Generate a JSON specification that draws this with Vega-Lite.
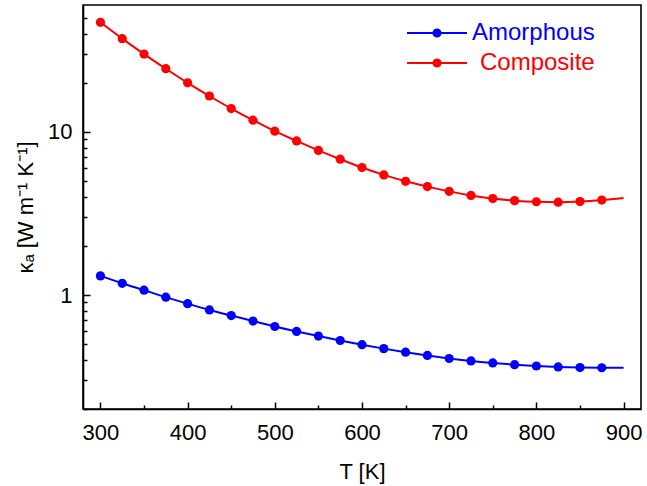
{
  "$schema": "https://vega.github.io/schema/vega-lite/v6.json",
  "width": 558,
  "height": 404,
  "autosize": "none",
  "padding": {"left": 83, "top": 5, "right": 6, "bottom": 77},
  "background": "white",
  "config": {
    "view": {"stroke": "#000", "strokeWidth": 1.6},
    "font": "Liberation Sans",
    "axis": {"grid": false, "domainColor": "#000", "domainWidth": 1.6, "tickColor": "#000", "tickWidth": 1.5, "labelColor": "#000", "titleColor": "#000", "labelFont": "Liberation Sans", "titleFont": "Liberation Sans", "labelFontSize": 22, "titleFontSize": 22, "titleFontWeight": "normal", "labelFlush": false}
  },
  "data": {"values": [
    {"T": 300, "k": 47.0, "s": "Composite"},
    {"T": 325, "k": 37.3, "s": "Composite"},
    {"T": 350, "k": 30.0, "s": "Composite"},
    {"T": 375, "k": 24.4, "s": "Composite"},
    {"T": 400, "k": 20.0, "s": "Composite"},
    {"T": 425, "k": 16.6, "s": "Composite"},
    {"T": 450, "k": 13.9, "s": "Composite"},
    {"T": 475, "k": 11.8, "s": "Composite"},
    {"T": 500, "k": 10.1, "s": "Composite"},
    {"T": 525, "k": 8.8, "s": "Composite"},
    {"T": 550, "k": 7.7, "s": "Composite"},
    {"T": 575, "k": 6.8, "s": "Composite"},
    {"T": 600, "k": 6.05, "s": "Composite"},
    {"T": 625, "k": 5.45, "s": "Composite"},
    {"T": 650, "k": 4.98, "s": "Composite"},
    {"T": 675, "k": 4.62, "s": "Composite"},
    {"T": 700, "k": 4.32, "s": "Composite"},
    {"T": 725, "k": 4.08, "s": "Composite"},
    {"T": 750, "k": 3.9, "s": "Composite"},
    {"T": 775, "k": 3.79, "s": "Composite"},
    {"T": 800, "k": 3.73, "s": "Composite"},
    {"T": 825, "k": 3.71, "s": "Composite"},
    {"T": 850, "k": 3.74, "s": "Composite"},
    {"T": 875, "k": 3.82, "s": "Composite"},
    {"T": 900, "k": 3.94, "s": "Composite"},
    {"T": 300, "k": 1.31, "s": "Amorphous"},
    {"T": 325, "k": 1.18, "s": "Amorphous"},
    {"T": 350, "k": 1.07, "s": "Amorphous"},
    {"T": 375, "k": 0.97, "s": "Amorphous"},
    {"T": 400, "k": 0.885, "s": "Amorphous"},
    {"T": 425, "k": 0.81, "s": "Amorphous"},
    {"T": 450, "k": 0.748, "s": "Amorphous"},
    {"T": 475, "k": 0.692, "s": "Amorphous"},
    {"T": 500, "k": 0.641, "s": "Amorphous"},
    {"T": 525, "k": 0.598, "s": "Amorphous"},
    {"T": 550, "k": 0.56, "s": "Amorphous"},
    {"T": 575, "k": 0.526, "s": "Amorphous"},
    {"T": 600, "k": 0.496, "s": "Amorphous"},
    {"T": 625, "k": 0.469, "s": "Amorphous"},
    {"T": 650, "k": 0.446, "s": "Amorphous"},
    {"T": 675, "k": 0.426, "s": "Amorphous"},
    {"T": 700, "k": 0.408, "s": "Amorphous"},
    {"T": 725, "k": 0.394, "s": "Amorphous"},
    {"T": 750, "k": 0.383, "s": "Amorphous"},
    {"T": 775, "k": 0.374, "s": "Amorphous"},
    {"T": 800, "k": 0.367, "s": "Amorphous"},
    {"T": 825, "k": 0.362, "s": "Amorphous"},
    {"T": 850, "k": 0.359, "s": "Amorphous"},
    {"T": 875, "k": 0.358, "s": "Amorphous"},
    {"T": 900, "k": 0.358, "s": "Amorphous"}
  ]},
  "resolve": {"axis": {"x": "independent", "y": "independent"}},
  "layer": [
    {
      "mark": {"type": "line", "interpolate": "monotone", "strokeWidth": 2},
      "encoding": {
        "x": {"field": "T", "type": "quantitative", "scale": {"domain": [280, 920], "nice": false, "zero": false},
          "axis": {"orient": "bottom", "title": "T [K]", "values": [300, 400, 500, 600, 700, 800, 900], "format": "d",
            "tickSize": -7, "labelPadding": 20, "titlePadding": 18}},
        "y": {"field": "k", "type": "quantitative", "scale": {"type": "log", "domain": [0.2, 60], "nice": false},
          "axis": {"orient": "left", "title": "κₐ [W m⁻¹ K⁻¹]", "values": [1, 10], "format": "~g",
            "tickSize": -7, "labelPadding": 18, "titlePadding": 10}},
        "color": {"field": "s", "type": "nominal", "scale": {"domain": ["Amorphous", "Composite"], "range": ["#0000ff", "#ff0000"]},
          "legend": {"title": null, "orient": "none", "legendX": 338, "legendY": 12, "rowPadding": 2,
            "symbolType": "M-2,0H-0.24M0.24,0H2M0.24,0A0.24,0.24 0 1,1 -0.24,0A0.24,0.24 0 1,1 0.24,0Z",
            "symbolSize": 900, "symbolStrokeWidth": 2, "labelFontSize": 24, "labelFont": "Liberation Sans", "labelOffset": 19,
            "encode": {"labels": {"update": {"fill": {"scale": "color", "field": "value"}, "dx": {"signal": "datum.value == 'Composite' ? 8 : 0"}}},
                       "symbols": {"update": {"fill": {"scale": "color", "field": "value"}, "stroke": {"scale": "color", "field": "value"}, "strokeWidth": {"value": 2}, "opacity": {"value": 1}}}}}}
      }
    },
    {
      "transform": [{"filter": "datum.T <= 875"}],
      "mark": {"type": "point", "filled": true, "size": 85, "opacity": 1},
      "encoding": {
        "x": {"field": "T", "type": "quantitative",
          "axis": {"orient": "bottom", "title": null, "values": [350, 450, 550, 650, 750, 850], "labels": false, "domain": false, "tickSize": -4}},
        "y": {"field": "k", "type": "quantitative",
          "axis": {"orient": "left", "title": null, "values": [0.2, 0.3, 0.4, 0.5, 0.6, 0.7, 0.8, 0.9, 2, 3, 4, 5, 6, 7, 8, 9, 20, 30, 40, 50], "labels": false, "domain": false, "tickSize": -4}},
        "color": {"field": "s", "type": "nominal"}
      }
    }
  ]
}
